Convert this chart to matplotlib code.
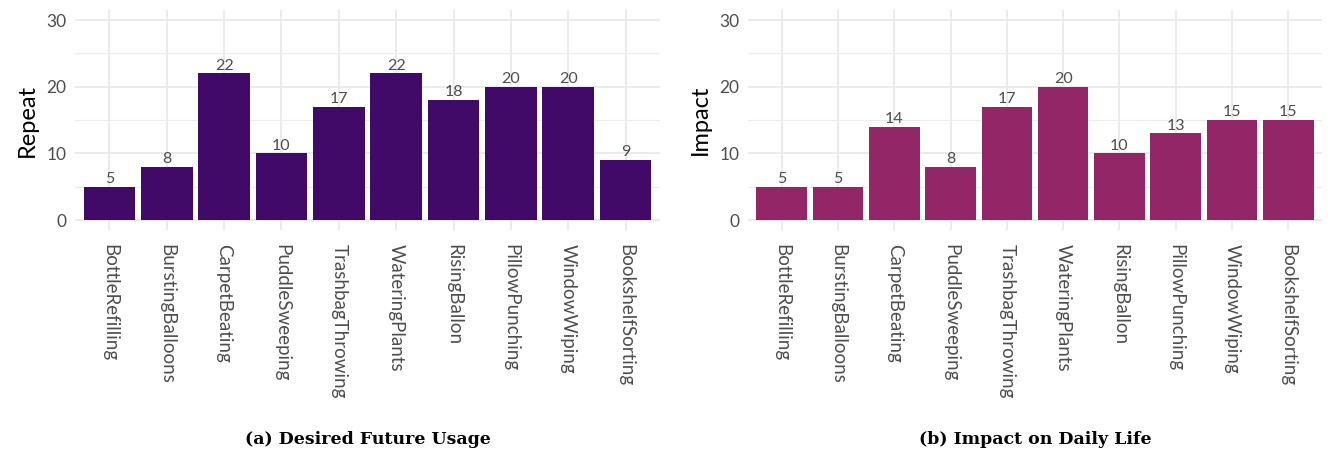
import matplotlib
matplotlib.use("Agg")
import matplotlib.pyplot as plt

tasks = ["BottleRefilling", "BurstingBalloons", "CarpetBeating", "PuddleSweeping",
         "TrashbagThrowing", "WateringPlants", "RisingBallon", "PillowPunching",
         "WindowWiping", "BookshelfSorting"]
repeat = [5, 8, 22, 10, 17, 22, 18, 20, 20, 9]
impact = [5, 5, 14, 8, 17, 20, 10, 13, 15, 15]

plt.rcParams['font.family'] = ['Lato', 'DejaVu Sans']

fig = plt.figure(figsize=(13.32, 4.57), dpi=100)

panels = [
    (repeat, "Repeat", "#420A68", "(a) Desired Future Usage", [75 / 1332, 0.4967, 585 / 1332, 0.4814]),
    (impact, "Impact", "#932667", "(b) Impact on Daily Life", [748 / 1332, 0.4967, 574 / 1332, 0.4814]),
]

for vals, ylab, col, caption, rect in panels:
    ax = fig.add_axes(rect)
    x = list(range(len(tasks)))
    ax.bar(x, vals, width=0.9, color=col, zorder=3)
    for xi, v in zip(x, vals):
        ax.text(xi, v + 0.1, str(v), ha="center", va="bottom", fontsize=11.5,
                color="#4D4D4D", zorder=4)
    ax.set_xlim(-0.6, len(tasks) - 0.4)
    ax.set_ylim(-1.5, 31.5)
    ax.set_yticks([0, 10, 20, 30])
    ax.set_yticks([5, 15, 25], minor=True)
    ax.set_xticks(x)
    ax.set_xticklabels(tasks, rotation=270, fontsize=13.5, color="#4D4D4D")
    ax.tick_params(axis="y", labelsize=12.5, labelcolor="#4D4D4D")
    ax.tick_params(axis="x", pad=10)
    ax.tick_params(axis="y", pad=6)
    ax.tick_params(axis="both", which="both", length=0)
    ax.grid(True, which="major", color="#EBEBEB", linewidth=1.4, zorder=0)
    ax.grid(True, which="minor", axis="y", color="#EBEBEB", linewidth=0.8, zorder=0)
    for s in ax.spines.values():
        s.set_visible(False)
    ax.set_ylabel(ylab, fontsize=17, color="black", labelpad=6)
    cx = rect[0] + rect[2] / 2
    fig.text(cx, 1 - 440 / 457, caption, ha="center", va="center", fontsize=12.5,
             fontweight="bold", family=["DejaVu Serif"])

fig.savefig("out.png", dpi=100)
